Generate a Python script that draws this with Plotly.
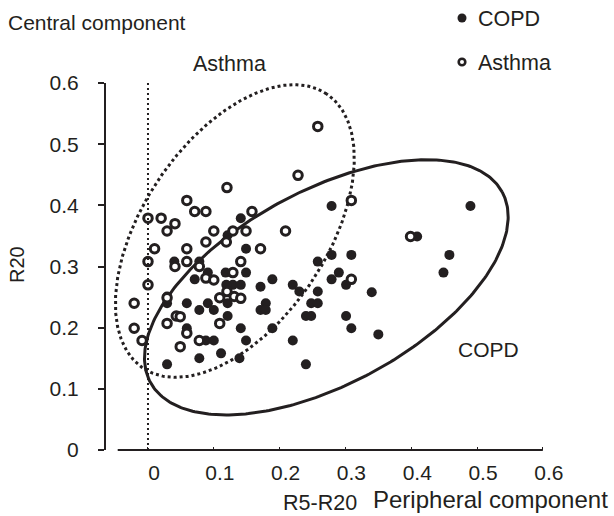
import numpy as np
import plotly.graph_objects as go

# ---------------- data ----------------
copd_x = [0.490, 0.279, 0.141, 0.409, 0.458, 0.449, 0.279, 0.309, 0.258, 0.149,
          0.040, 0.078, 0.118, 0.149, 0.071, 0.091, 0.129, 0.141, 0.171, 0.189,
          0.220, 0.290, 0.279, 0.301, 0.230, 0.258, 0.340, 0.248, 0.258, 0.179,
          0.171, 0.179, 0.240, 0.248, 0.301, 0.309, 0.350, 0.189, 0.220, 0.240,
          0.141, 0.149, 0.139, 0.111, 0.078, 0.029, 0.088, 0.100, 0.059, 0.059,
          0.078, 0.091, 0.100, 0.121, 0.121, 0.029, 0.029, 0.121, 0.119]
copd_y = [0.399, 0.399, 0.379, 0.349, 0.319, 0.290, 0.319, 0.319, 0.308, 0.329,
          0.308, 0.308, 0.290, 0.290, 0.279, 0.290, 0.270, 0.270, 0.267, 0.279,
          0.270, 0.290, 0.279, 0.270, 0.259, 0.259, 0.258, 0.240, 0.240, 0.240,
          0.229, 0.229, 0.219, 0.219, 0.219, 0.199, 0.189, 0.199, 0.179, 0.140,
          0.199, 0.179, 0.150, 0.158, 0.150, 0.140, 0.179, 0.179, 0.199, 0.240,
          0.229, 0.240, 0.229, 0.219, 0.240, 0.240, 0.251, 0.351, 0.270]

asthma_x = [0.258, 0.228, 0.120, 0.059, 0.071, 0.088, 0.158, 0.309, 0.000, 0.020,
            0.041, 0.029, 0.100, 0.129, 0.149, 0.209, 0.088, 0.119, 0.010, 0.059,
            0.171, 0.000, 0.041, 0.059, 0.078, 0.141, 0.129, 0.088, 0.100, 0.000,
            0.120, 0.131, 0.141, 0.109, 0.309, 0.029, -0.021, 0.043, 0.049, 0.029,
            -0.021, 0.059, 0.078, -0.009, 0.109, 0.049, 0.399]
asthma_y = [0.529, 0.449, 0.429, 0.408, 0.390, 0.390, 0.390, 0.408, 0.379, 0.379,
            0.370, 0.358, 0.358, 0.358, 0.358, 0.358, 0.340, 0.340, 0.329, 0.329,
            0.329, 0.308, 0.300, 0.308, 0.300, 0.308, 0.290, 0.281, 0.278, 0.270,
            0.259, 0.251, 0.248, 0.249, 0.279, 0.249, 0.240, 0.219, 0.218, 0.207,
            0.199, 0.191, 0.179, 0.179, 0.207, 0.169, 0.349]

x_ticks = [0, 0.1, 0.2, 0.3, 0.4, 0.5, 0.6]
x_tick_labels = ["0", "0.1", "0.2", "0.3", "0.4", "0.5", "0.6"]
y_ticks = [0, 0.1, 0.2, 0.3, 0.4, 0.5, 0.6]
y_tick_labels = ["0", "0.1", "0.2", "0.3", "0.4", "0.5", "0.6"]

# ellipse centres (data units), semi-axes (pixels), tilt (degrees)
asthma_centre = (0.132, 0.358)
asthma_axes_px = (165.0, 92.0)
asthma_tilt = 56.2
copd_centre = (0.271, 0.266)
copd_axes_px = (200.0, 96.7)
copd_tilt = 28.4

# ---------------- layout geometry ----------------
W, H = 614, 516
ML, MR, MT, MB = 106, 58, 83, 66
XR = [-0.0638, 0.620]
YR = [0.0, 0.6]
PW, PH = W - ML - MR, H - MT - MB
SX = PW / (XR[1] - XR[0])
SY = PH / (YR[1] - YR[0])

FONT = "Liberation Sans, Arial, Helvetica, sans-serif"
INK = "#231f20"


def px_to_paper(px, py):
    return (px - ML) / PW, (H - MB - py) / PH


def ellipse(centre, axes_px, tilt):
    t = np.linspace(0, 2 * np.pi, 361)
    th = np.radians(tilt)
    a, b = axes_px
    dx = a * np.cos(t) * np.cos(th) - b * np.sin(t) * np.sin(th)
    dy = a * np.cos(t) * np.sin(th) + b * np.sin(t) * np.cos(th)
    return centre[0] + dx / SX, centre[1] + dy / SY


fig = go.Figure()

ax_x, ax_y = ellipse(asthma_centre, asthma_axes_px, asthma_tilt)
fig.add_trace(go.Scatter(x=ax_x, y=ax_y, mode="lines", hoverinfo="skip",
                         line=dict(color=INK, width=3, dash="3px,3px"),
                         showlegend=False))
cx_, cy_ = ellipse(copd_centre, copd_axes_px, copd_tilt)
fig.add_trace(go.Scatter(x=cx_, y=cy_, mode="lines", hoverinfo="skip",
                         line=dict(color=INK, width=3), showlegend=False))

fig.add_trace(go.Scatter(x=copd_x, y=copd_y, mode="markers", name="COPD",
                         marker=dict(symbol="circle", size=10, color=INK,
                                     line=dict(width=0)),
                         cliponaxis=False, showlegend=False))
fig.add_trace(go.Scatter(x=asthma_x, y=asthma_y, mode="markers", name="Asthma",
                         marker=dict(symbol="circle", size=8.5, color="white",
                                     line=dict(width=3, color=INK)),
                         cliponaxis=False, showlegend=False))

shapes = []
# dotted vertical line at x = 0
shapes.append(dict(type="line", xref="x", yref="y", x0=0, x1=0, y0=YR[0], y1=YR[1],
                   line=dict(color=INK, width=2, dash="2px,3px")))
# x axis line (starts a little right of the y axis)
x0p = (-0.046 - XR[0]) / (XR[1] - XR[0])
x1p = (0.6 - XR[0]) / (XR[1] - XR[0])
shapes.append(dict(type="line", xref="paper", yref="paper", x0=x0p, x1=x1p, y0=0, y1=0,
                   line=dict(color=INK, width=2)))

# legend symbols
for (px, py, filled) in [(462, 18, True), (462, 62, False)]:
    xp, yp = px_to_paper(px, py)
    if filled:
        shapes.append(dict(type="circle", xref="paper", yref="paper",
                           xsizemode="pixel", ysizemode="pixel",
                           xanchor=xp, yanchor=yp, x0=-4.5, x1=4.5, y0=-4.5, y1=4.5,
                           fillcolor=INK, line=dict(width=0)))
    else:
        shapes.append(dict(type="circle", xref="paper", yref="paper",
                           xsizemode="pixel", ysizemode="pixel",
                           xanchor=xp, yanchor=yp, x0=-3.3, x1=3.3, y0=-3.3, y1=3.3,
                           fillcolor="white", line=dict(width=2.6, color=INK)))

annotations = []


def add_text(text, px, py, size=21, xanchor="left", angle=0):
    xp, yp = px_to_paper(px, py)
    annotations.append(dict(text=text, x=xp, y=yp, xref="paper", yref="paper",
                            xanchor=xanchor, yanchor="middle", showarrow=False,
                            textangle=angle, font=dict(size=size, color=INK, family=FONT)))


add_text("Central component", 6, 22, size=21)
add_text("Asthma", 191, 64, size=21.5)
add_text("COPD", 456, 349, size=21)
add_text("COPD", 476, 19, size=21.5)
add_text("Asthma", 476, 63, size=21.5)
add_text("R20", 17, 265, size=20, xanchor="center", angle=-90)
add_text("R5-R20", 281, 503, size=21.5)
add_text("Peripheral component", 371, 499, size=24)

fig.update_layout(
    width=W, height=H,
    margin=dict(l=ML, r=MR, t=MT, b=MB, pad=0),
    paper_bgcolor="white", plot_bgcolor="white",
    font=dict(family=FONT, color=INK, size=21),
    shapes=shapes, annotations=annotations,
    showlegend=False,
    xaxis=dict(range=XR, tickvals=x_ticks, ticktext=x_tick_labels,
               showgrid=False, zeroline=False, showline=False,
               ticks="inside", ticklen=3, tickwidth=1, tickcolor=INK,
               ticklabelshift=6, ticklabelstandoff=8,
               tickfont=dict(size=21, color=INK, family=FONT)),
    yaxis=dict(range=YR, tickvals=y_ticks, ticktext=y_tick_labels,
               showgrid=False, zeroline=False, showline=True, linewidth=2,
               linecolor=INK, ticks="outside", ticklen=6, tickwidth=2,
               tickcolor=INK, ticklabelstandoff=15,
               tickfont=dict(size=21, color=INK, family=FONT)),
)

fig.write_html("out.html")
